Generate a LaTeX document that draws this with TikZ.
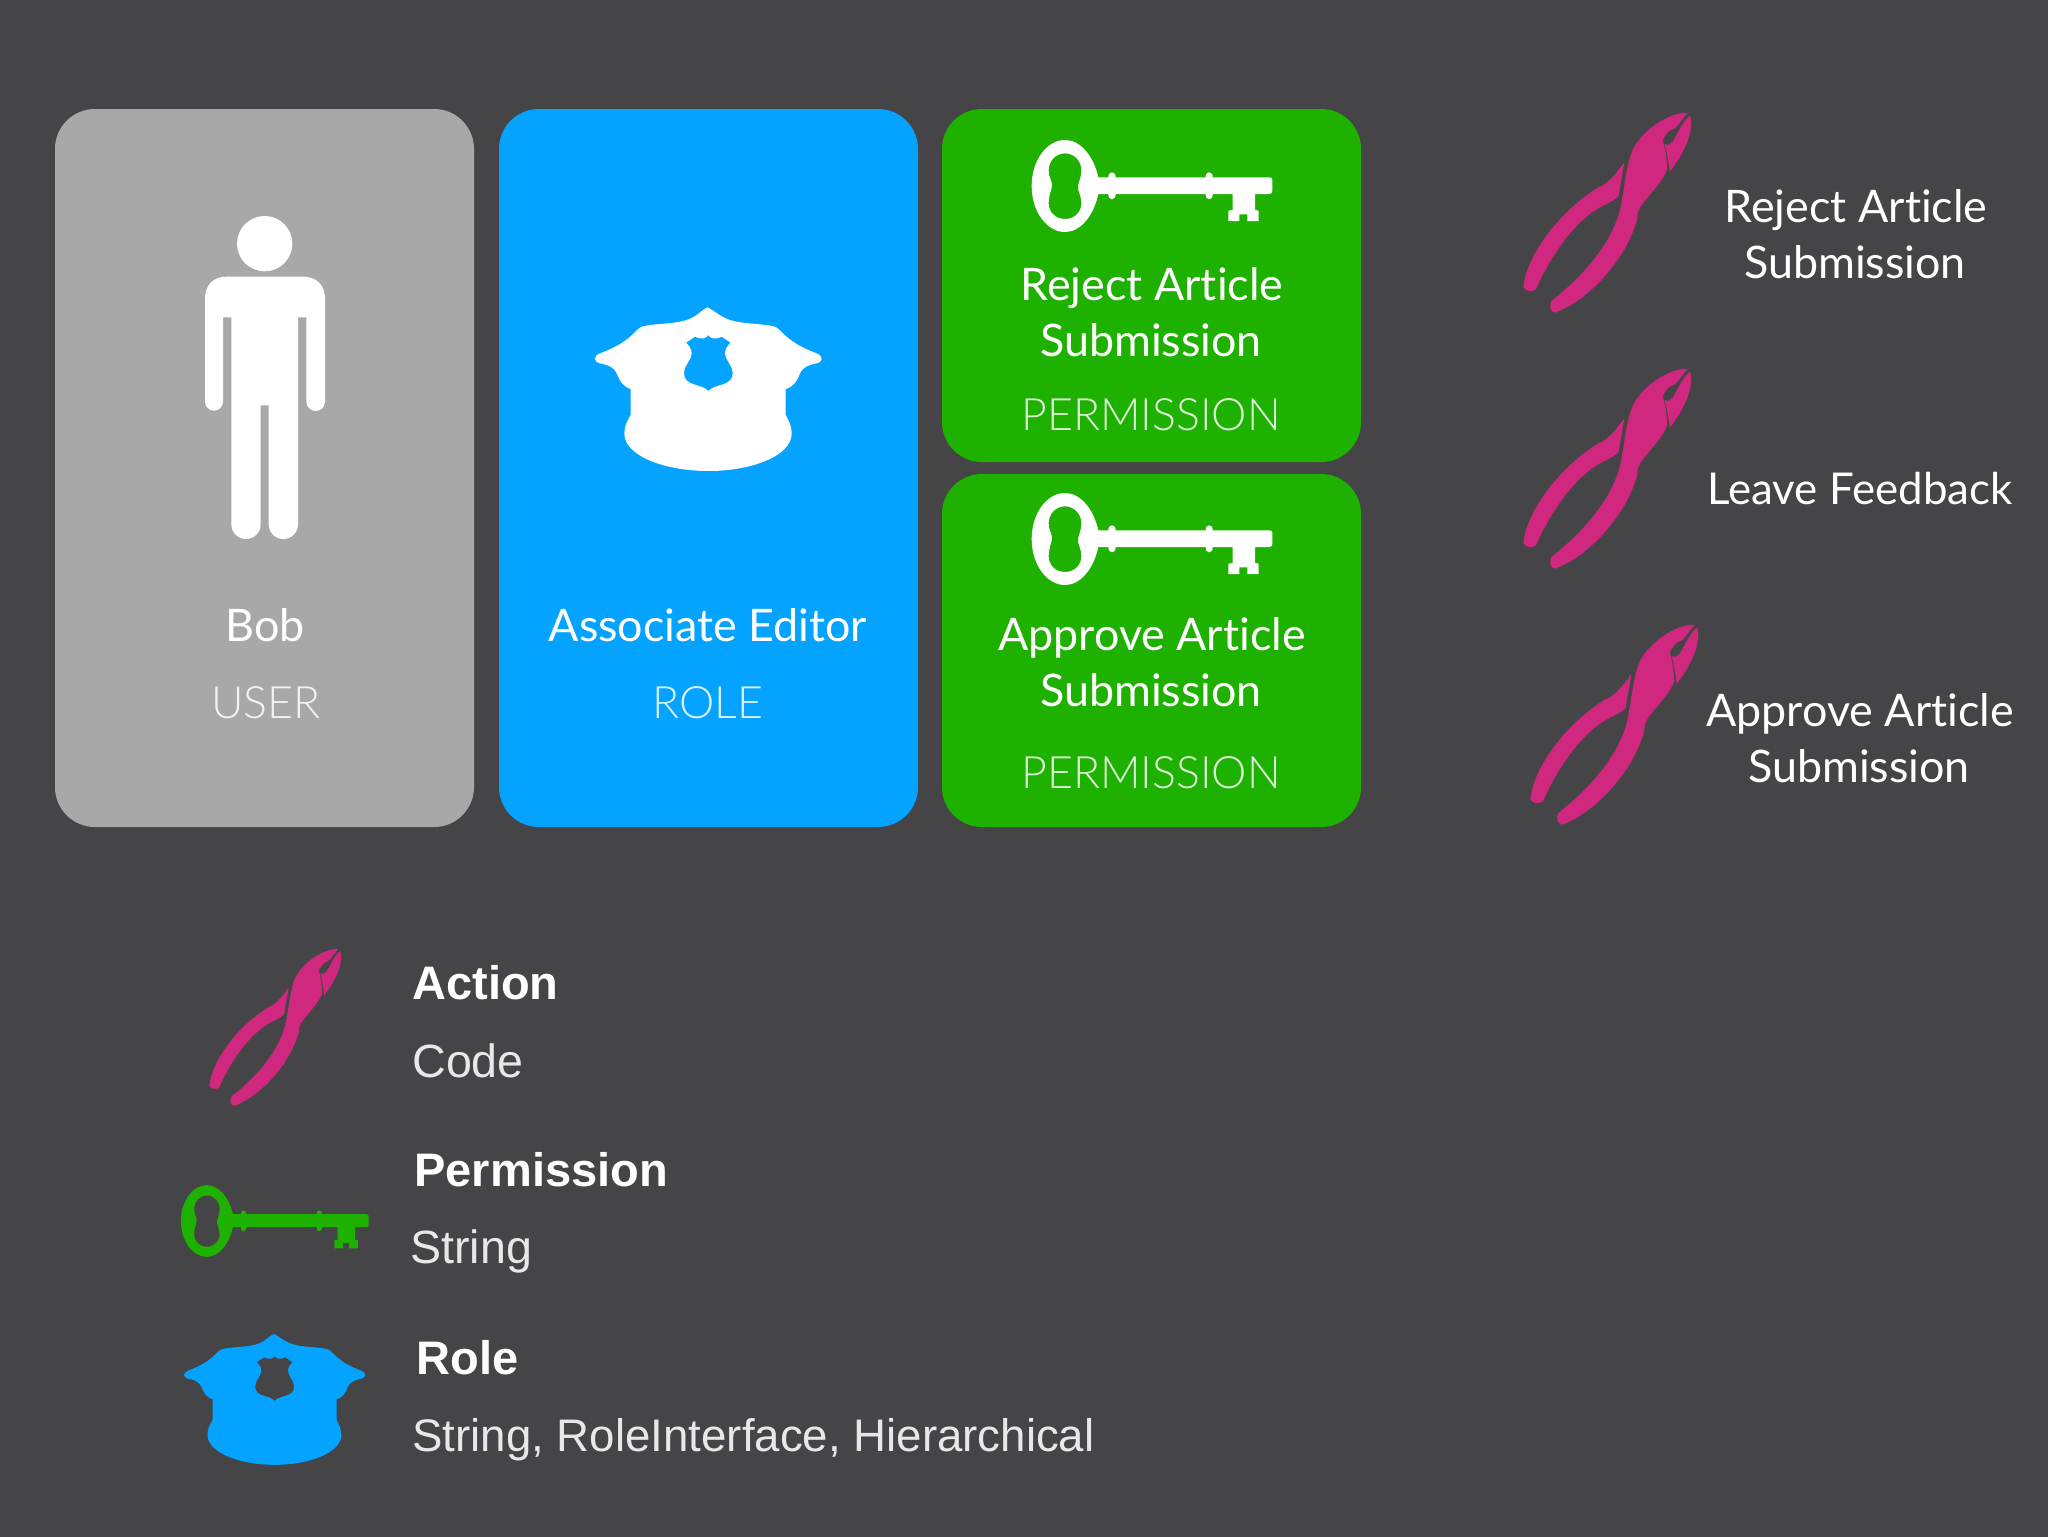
\documentclass[tikz,border=0pt]{standalone}
\usepackage{fontspec}
\setmainfont{Lato}
\newfontfamily\gill[Ligatures=CommonOff]{Lato}
\newfontfamily\gilllight[Ligatures=CommonOff]{Lato Light}
\newfontfamily\helv{Liberation Sans}
\definecolor{bgc}{HTML}{454446}
\definecolor{grayc}{HTML}{A8A8A8}
\definecolor{bluec}{HTML}{04A3FF}
\definecolor{greenc}{HTML}{1EB100}
\definecolor{pinkc}{HTML}{D0287F}
\tikzset{
  card/.style={fill=#1,rounded corners=20},
  cardtext/.style={text=white,anchor=base,inner sep=0pt,font=\gill\fontsize{22.5}{22.5}\selectfont},
  feedbacktext/.style={text=white,anchor=base,inner sep=0pt,font=\gill\fontsize{22}{22}\selectfont},
  capstext/.style={text=white,text opacity=.85,anchor=base,inner sep=0pt,font=\gilllight\fontsize{22.4}{22.4}\selectfont},
  legendhead/.style={text=white,anchor=base west,inner sep=0pt,font=\helv\bfseries\fontsize{23.6}{23.6}\selectfont},
  legendtext/.style={text=white,text opacity=.88,anchor=base west,inner sep=0pt,font=\helv\fontsize{23.4}{23.4}\selectfont},
  legendlong/.style={legendtext,font=\helv\fontsize{22.9}{22.9}\selectfont},
  pics/pliers/.style={code={
    \fill[#1] (555,68) .. controls (500,72) and (430,120) .. (400,175)
      .. controls (380,220) and (375,280) .. (365,335)
      .. controls (355,400) and (310,510) .. (155,632)
      .. controls (146,645) and (150,665) .. (165,668)
      .. controls (260,635) and (380,510) .. (412,385)
      .. controls (412,370) and (415,360) .. (425,345)
      .. controls (460,300) and (495,265) .. (502,235)
      .. controls (500,200) and (495,175) .. (488,150)
      .. controls (498,135) and (505,118) .. (525,115)
      .. controls (535,105) and (548,85) .. (562,70) -- cycle;
    \fill[#1] (570,76) .. controls (582,110) and (565,175) .. (509,245)
      .. controls (505,210) and (500,185) .. (494,162)
      .. controls (515,172) and (523,145) .. (533,128)
      .. controls (545,105) and (555,90) .. (570,76) -- cycle;
    \fill[#1] (373,216) .. controls (368,250) and (360,290) .. (356,318)
      .. controls (345,330) and (330,335) .. (320,342)
      .. controls (230,380) and (150,500) .. (108,598)
      .. controls (95,607) and (75,605) .. (70,590)
      .. controls (80,500) and (170,370) .. (295,292)
      .. controls (320,285) and (350,250) .. (373,216) -- cycle;
  }},
  pics/keyicon/.style={code={
    \fill[#1,even odd rule] (165,60) .. controls (110,60) and (65,122) .. (65,198)
      .. controls (65,274) and (110,336) .. (165,336)
      .. controls (210,336) and (250,290) .. (265,222)
      -- (295,222) .. controls (295,232) and (300,238) .. (306,238)
      .. controls (312,238) and (317,232) .. (317,222)
      -- (587,222) .. controls (587,232) and (591,238) .. (597,238)
      .. controls (604,238) and (608,232) .. (608,222)
      -- (668,222) -- (668,270) -- (655,272) -- (655,303) -- (688,303) -- (688,283)
      -- (712,283) -- (712,303) -- (746,303) -- (746,272) -- (735,270) -- (735,222)
      -- (778,222) .. controls (785,222) and (787,218) .. (787,212)
      -- (787,180) .. controls (787,175) and (785,172) .. (778,172)
      -- (608,172) .. controls (608,162) and (604,157) .. (597,157)
      .. controls (591,157) and (587,162) .. (587,172)
      -- (317,172) .. controls (317,162) and (312,157) .. (306,157)
      .. controls (300,157) and (295,162) .. (295,172)
      -- (265,172) .. controls (250,106) and (210,60) .. (165,60) -- cycle
      (165,100) .. controls (135,100) and (116,125) .. (116,150)
      .. controls (116,175) and (128,185) .. (126,198)
      .. controls (124,212) and (116,225) .. (116,250)
      .. controls (116,275) and (135,297) .. (165,297)
      .. controls (195,297) and (214,275) .. (214,250)
      .. controls (214,225) and (202,212) .. (204,198)
      .. controls (206,185) and (214,175) .. (214,150)
      .. controls (214,125) and (195,100) .. (165,100) -- cycle;
  }},
  pics/haticon/.style={code={
    \fill[#1,even odd rule] (382,52) .. controls (365,60) and (350,80) .. (320,90)
      .. controls (280,103) and (220,100) .. (185,110)
      .. controls (165,118) and (155,155) .. (60,190)
      .. controls (40,198) and (40,215) .. (60,220)
      .. controls (85,225) and (100,230) .. (110,250)
      .. controls (120,275) and (130,290) .. (152,297)
      -- (152,375) .. controls (140,395) and (133,410) .. (133,430)
      .. controls (133,500) and (260,543) .. (385,543)
      .. controls (510,543) and (635,500) .. (635,430)
      .. controls (635,410) and (628,395) .. (617,375)
      -- (617,297) .. controls (640,290) and (650,275) .. (660,250)
      .. controls (670,230) and (685,225) .. (710,220)
      .. controls (730,215) and (730,198) .. (710,190)
      .. controls (615,155) and (605,118) .. (585,110)
      .. controls (550,100) and (490,103) .. (450,90)
      .. controls (420,80) and (400,60) .. (382,52) -- cycle
      (385,135) .. controls (380,145) and (365,150) .. (345,140)
      -- (318,158) .. controls (325,165) and (335,175) .. (335,190)
      .. controls (335,210) and (312,225) .. (312,250)
      .. controls (312,290) and (365,280) .. (385,303)
      .. controls (405,280) and (458,290) .. (458,250)
      .. controls (458,225) and (435,210) .. (435,190)
      .. controls (435,175) and (445,165) .. (452,158)
      -- (425,140) .. controls (405,150) and (390,145) .. (385,135) -- cycle;
  }},
  pics/person/.style={code={
    \fill[#1] (224,131) circle[radius=83];
    \fill[#1] (110,230) -- (338,230) .. controls (380,230) and (405,255) .. (405,295)
      -- (405,605) arc[start angle=0,end angle=180,radius=28]
      -- (349,352) -- (324,352) -- (324,973)
      arc[start angle=0,end angle=180,radius=44] -- (236,616) -- (212,616) -- (212,973)
      arc[start angle=0,end angle=180,radius=44] -- (124,352) -- (99,352) -- (99,605)
      arc[start angle=0,end angle=180,radius=27] -- (45,295)
      .. controls (45,255) and (70,230) .. (110,230) -- cycle;
  }},
}
\begin{document}
\begin{tikzpicture}[x=0.5bp,y=-0.5bp]
\useasboundingbox (0,0) rectangle (2048,1536);
\fill[bgc] (-4,-4) rectangle (2052,1540);
\path[card=grayc] (55,109) rectangle (474,827);
\path[card=bluec] (499,109) rectangle (918,827);
\path[card=greenc] (942,109) rectangle (1361,462);
\path[card=greenc] (942,474) rectangle (1361,827);

\pic[scale=1/3] at (190,200) {person=white};
\pic[scale=1/3] at (580,290) {haticon=white};
\pic[scale=1/3] at (1010,120) {keyicon=white};
\pic[scale=1/3] at (1010,473) {keyicon=white};
\pic[scale=1/3] at (1500,90) {pliers=pinkc};
\pic[scale=1/3] at (1500,346) {pliers=pinkc};
\pic[scale=1/3] at (1507,602) {pliers=pinkc};
\pic[scale=.2617] at (191,931) {pliers=pinkc};
\pic[scale=.26] at (164,1169.5) {keyicon=greenc};
\pic[scale=.2667] at (172,1320) {haticon=bluec};

\node[cardtext] (bob) at (265,641) {Bob};
\node[capstext] (user) at (266,718) {USER};
\node[cardtext] (assoc) at (708,641) {Associate Editor};
\node[capstext] (role) at (708,718) {ROLE};
\node[cardtext] (r1) at (1152,300) {Reject Article};
\node[cardtext] (r2) at (1151,356) {Submission};
\node[capstext] (p1) at (1151,430) {PERMISSION};
\node[cardtext] (a1) at (1152,650) {Approve Article};
\node[cardtext] (a2) at (1151,706) {Submission};
\node[capstext] (p2) at (1151,788) {PERMISSION};
\node[cardtext] (sr1) at (1856,222) {Reject Article};
\node[cardtext] (sr2) at (1855,278) {Submission};
\node[feedbacktext] (sl) at (1860,504) {Leave Feedback};
\node[cardtext] (sa1) at (1860,726) {Approve Article};
\node[cardtext] (sa2) at (1859,782) {Submission};
\node[legendhead] (lh1) at (412,999) {Action};
\node[legendtext] (lt1) at (412,1077) {Code};
\node[legendhead] (lh2) at (414,1186) {Permission};
\node[legendtext] (lt2) at (410,1263) {String};
\node[legendhead] (lh3) at (416,1374) {Role};
\node[legendlong] (lt3) at (412,1451) {String, RoleInterface, Hierarchical};
\end{tikzpicture}
\end{document}
